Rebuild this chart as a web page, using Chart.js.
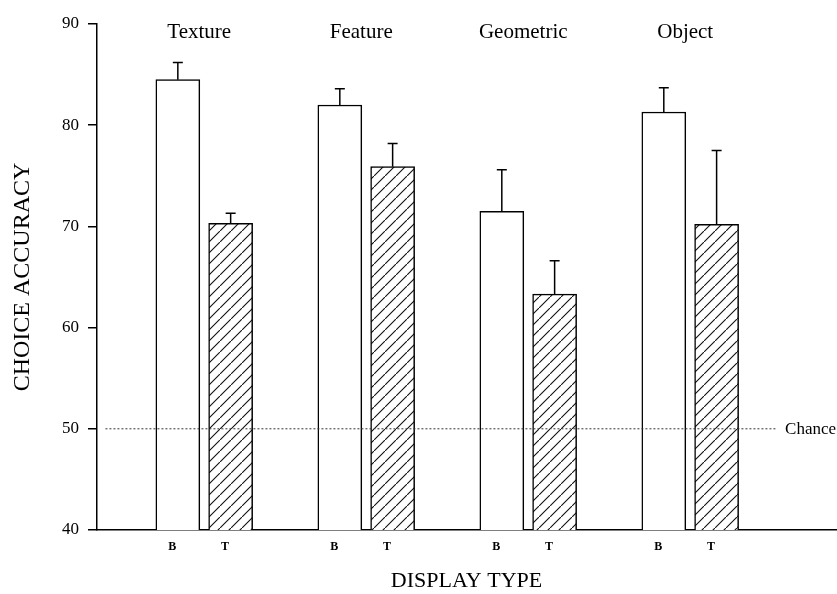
<!DOCTYPE html>
<html>
<head>
<meta charset="utf-8">
<script src="https://cdn.jsdelivr.net/npm/chart.js@4.4.1/dist/chart.umd.min.js"></script>
<style>
  html, body { margin: 0; padding: 0; background: #fff; }
  #wrap { width: 837px; height: 594px; }
</style>
</head>
<body>
<div id="wrap"><canvas id="chart" width="837" height="594"></canvas></div>
<script>
// display types (groups) and the two bars in each group
const displayTypes = ["Texture", "Feature", "Geometric", "Object"];
const barNames = ["B", "T"];

// mean choice accuracy
const valuesB = [84.5, 82.0, 71.5, 81.3];
const valuesT = [70.3, 75.9, 63.3, 70.2];
// upper error bars (same units)
const errorsB = [1.7, 1.6, 4.1, 2.4];
const errorsT = [1.0, 2.3, 3.3, 7.3];

// chance level and the stretch of the dotted line (in group units)
const chanceLevel = 50;
const chanceFrom = -0.61;
const chanceTo = 3.53;

const yTicks = [40, 50, 60, 70, 80, 90];

const serif = '"Liberation Serif", "Times New Roman", serif';

// hatch pattern for the T bars
function makeHatch() {
  const c = document.createElement("canvas");
  c.width = 11; c.height = 11;
  const g = c.getContext("2d");
  g.fillStyle = "#fff";
  g.fillRect(0, 0, 11, 11);
  g.strokeStyle = "#111";
  g.lineWidth = 1.1;
  g.beginPath();
  g.moveTo(-1, 12); g.lineTo(12, -1);
  g.moveTo(-2, 1); g.lineTo(1, -2);
  g.moveTo(10, 13); g.lineTo(13, 10);
  g.stroke();
  return g.createPattern(c, "repeat");
}

const groupIdx = displayTypes.map((d, i) => i);
const barOffset = 0.163;   // half the distance between B and T centres, in group units
const labelNudge = -0.035;

// x-axis tick list: B and T under every group
const tickVals = [];
const tickText = [];
groupIdx.forEach(i => {
  tickVals.push(i - barOffset + labelNudge); tickText.push(barNames[0]);
  tickVals.push(i + barOffset + labelNudge); tickText.push(barNames[1]);
});

// error bars drawn on top of the bars
const errorBarPlugin = {
  id: "errorBars",
  afterDatasetsDraw(chart) {
    const ctx = chart.ctx;
    const y = chart.scales.y;
    const errs = [errorsB, errorsT];
    const vals = [valuesB, valuesT];
    ctx.save();
    ctx.strokeStyle = "#000";
    ctx.lineWidth = 1.5;
    [0, 1].forEach(d => {
      const meta = chart.getDatasetMeta(d);
      meta.data.forEach((bar, i) => {
        const top = y.getPixelForValue(vals[d][i]);
        const end = y.getPixelForValue(vals[d][i] + errs[d][i]);
        ctx.beginPath();
        ctx.moveTo(bar.x, top);
        ctx.lineTo(bar.x, end);
        ctx.moveTo(bar.x - 5, end);
        ctx.lineTo(bar.x + 5, end);
        ctx.stroke();
      });
    });
    ctx.restore();
  }
};

// group names at the top and the "Chance" label
const labelPlugin = {
  id: "labels",
  afterDraw(chart) {
    const ctx = chart.ctx;
    const x = chart.scales.x;
    const y = chart.scales.y;
    ctx.save();
    ctx.fillStyle = "#000";
    ctx.font = "21px " + serif;
    ctx.textAlign = "center";
    ctx.textBaseline = "middle";
    displayTypes.forEach((name, i) => {
      ctx.fillText(name, x.getPixelForValue(i) - 5, y.getPixelForValue(89.2));
    });
    ctx.font = "17px " + serif;
    ctx.textAlign = "left";
    ctx.fillText("Chance", x.getPixelForValue(chanceTo) + 9, y.getPixelForValue(chanceLevel) + 1);
    ctx.restore();
  }
};

const ctx = document.getElementById("chart").getContext("2d");
const chart = new Chart(ctx, {
  type: "bar",
  data: {
    datasets: [
      {
        label: "B",
        data: groupIdx.map(i => ({ x: i - barOffset, y: valuesB[i] })),
        backgroundColor: "#fff",
        borderColor: "#000",
        borderWidth: 1.5,
        barThickness: 44,
        grouped: false,
        order: 1
      },
      {
        label: "T",
        data: groupIdx.map(i => ({ x: i + barOffset, y: valuesT[i] })),
        backgroundColor: makeHatch(),
        borderColor: "#000",
        borderWidth: 1.5,
        barThickness: 44,
        grouped: false,
        order: 1
      },
      {
        type: "line",
        label: "Chance",
        data: [{ x: chanceFrom, y: chanceLevel }, { x: chanceTo, y: chanceLevel }],
        borderColor: "#333",
        borderWidth: 1,
        borderDash: [2, 2],
        pointRadius: 0,
        fill: false,
        order: 0
      }
    ]
  },
  options: {
    responsive: false,
    animation: false,
    layout: { padding: { top: 24, right: 1, bottom: 0, left: 0 } },
    plugins: {
      legend: { display: false },
      tooltip: { enabled: false }
    },
    scales: {
      x: {
        type: "linear",
        min: -0.662,
        max: 3.9,
        offset: false,
        bounds: "data",
        grid: { display: false, drawTicks: false },
        border: { display: true, color: "#000", width: 1.5 },
        ticks: {
          autoSkip: false,
          maxRotation: 0,
          padding: 10,
          color: "#000",
          font: { family: serif, size: 12, weight: "bold" },
          callback: (v, i) => tickText[i]
        },
        afterBuildTicks: s => { s.ticks = tickVals.map(v => ({ value: v })); },
        afterFit: s => { s.height = 64; },
        title: {
          display: true,
          text: "DISPLAY TYPE",
          color: "#000",
          font: { family: serif, size: 22 },
          padding: { top: 0, bottom: 0 }
        }
      },
      y: {
        min: 40,
        max: 90,
        grid: { display: true, drawOnChartArea: false, drawTicks: true, tickLength: 9, color: "#000", lineWidth: 1.5 },
        border: { display: true, color: "#000", width: 1.5 },
        ticks: {
          padding: 9,
          color: "#000",
          font: { family: serif, size: 17 },
          stepSize: 10
        },
        afterBuildTicks: s => { s.ticks = yTicks.map(v => ({ value: v })); },
        afterFit: s => { s.width = 97; },
        title: {
          display: true,
          text: "CHOICE ACCURACY",
          color: "#000",
          font: { family: serif, size: 24 },
          padding: { top: 8, bottom: 0 }
        }
      }
    }
  },
  plugins: [errorBarPlugin, labelPlugin]
});
</script>
</body>
</html>
